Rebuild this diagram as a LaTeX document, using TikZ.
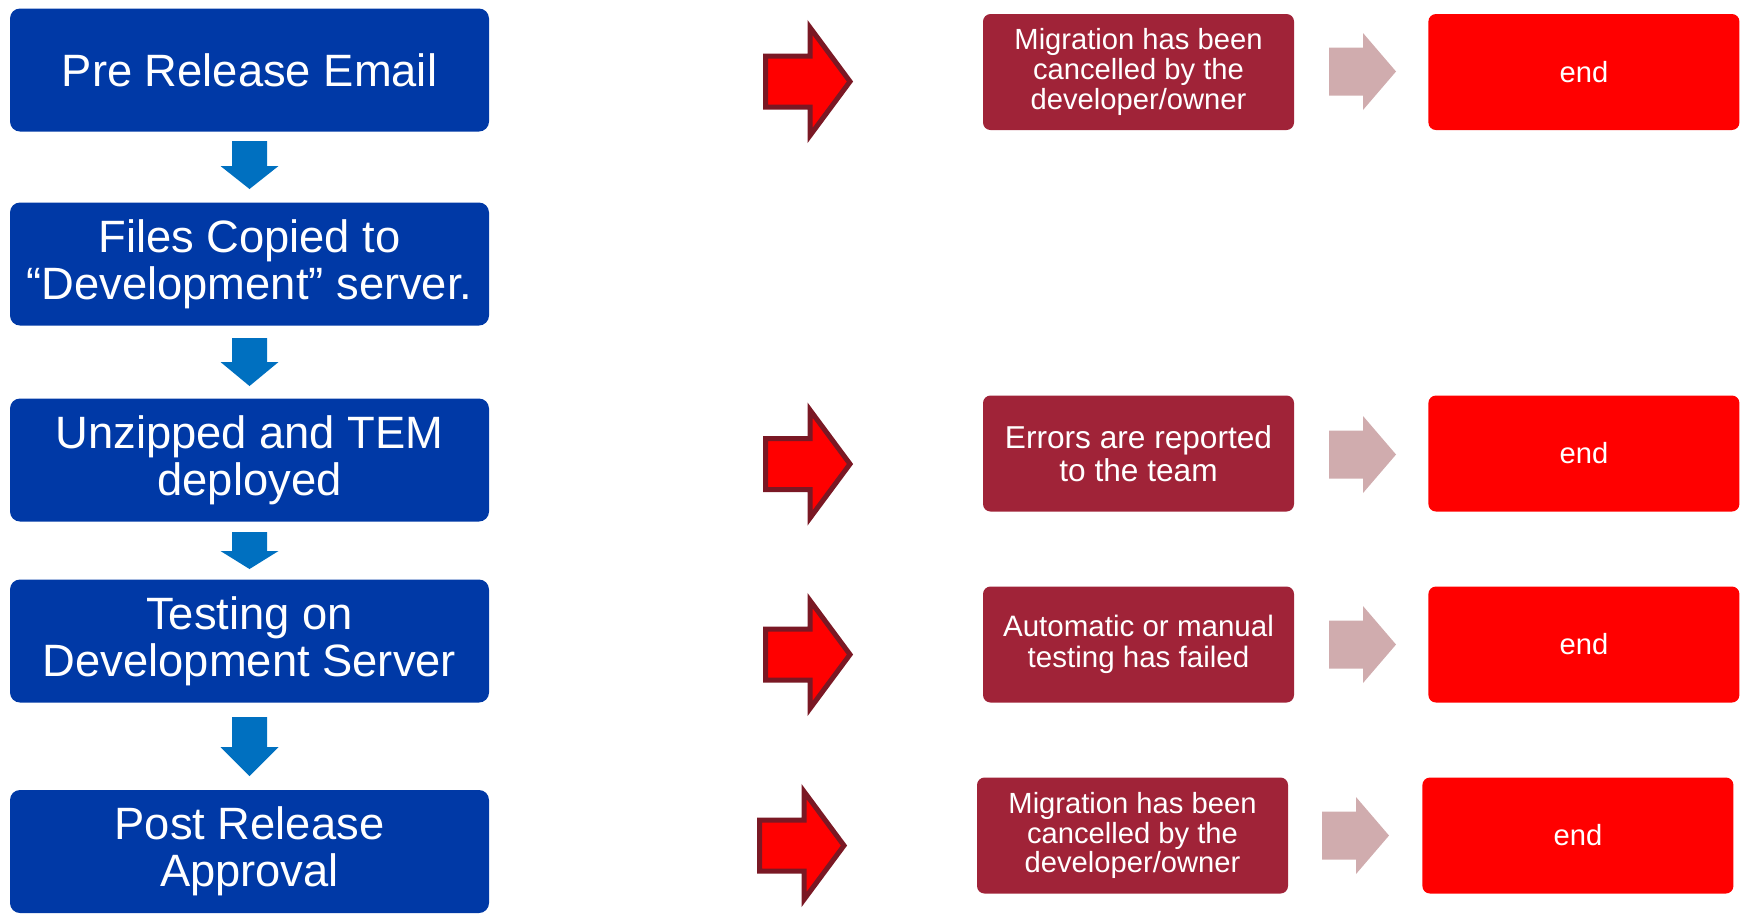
\documentclass[tikz,border=0pt]{standalone}
\usepackage{fontspec}
\setmainfont{Liberation Sans}
\usetikzlibrary{positioning}

\definecolor{stepblue}{RGB}{0,57,166}
\definecolor{arrowblue}{RGB}{0,112,192}
\definecolor{failred}{RGB}{160,35,56}
\definecolor{arrowrim}{RGB}{122,24,36}
\definecolor{arrowpink}{RGB}{208,172,174}
\definecolor{endred}{RGB}{255,0,0}

\begin{document}
\begin{tikzpicture}[x=0.1mm, y=-0.1mm,
  stepbox/.style={fill=stepblue, rounded corners=1mm, text=white, align=center,
    inner sep=0pt, minimum width=47.9mm, minimum height=12.3mm,
    font=\fontsize{12.9}{13.4}\selectfont},
  failbox/.style={fill=failred, rounded corners=0.75mm, text=white, align=center,
    inner sep=0pt, minimum width=31.1mm, minimum height=11.6mm,
    font=\fontsize{8.3}{8.5}\selectfont},
  endbox/.style={fill=endred, rounded corners=0.75mm, text=white,
    inner sep=0pt, minimum width=31.1mm, minimum height=11.6mm,
    font=\fontsize{8.3}{8.5}\selectfont}]
\useasboundingbox (0,0) rectangle (1742,913);

% main steps
\node[stepbox] (pre)    at (249.5,70) {Pre Release Email};
\node[stepbox] (copy)   at (249.5,264)  {Files Copied to\\“Development” server.};
\node[stepbox] (deploy) at (249.5,460)  {Unzipped and TEM\\deployed};
\node[stepbox] (test)   at (249.5,641)  {Testing on\\Development Server};
\node[stepbox] (post)   at (249.5,851.5) {Post Release\\Approval};

% down arrows: top/head/tip
\foreach \t/\h/\e in {141/166/189, 338/362/386, 532/551/569, 717/747/776}
  \fill[arrowblue] (232,\t) -- (267,\t) -- (267,\h) -- (278.5,\h) -- (249.5,\e)
    -- (220.5,\h) -- (232,\h) -- cycle;

% failure branches
\node[failbox] (cancelA) at (1138.5,72) {Migration has been\\cancelled by the\\developer/owner};
\node[failbox, font=\fontsize{9}{9.4}\selectfont] (errors) at (1138.5,453.5)
  {Errors are reported\\to the team};
\node[failbox, font=\fontsize{8.4}{8.8}\selectfont] (failed) at (1138.5,644.5)
  {Automatic or manual\\testing has failed};
\node[failbox] (cancelB) at (1132.5,835.5) {Migration has been\\cancelled by the\\developer/owner};

\node[endbox, right=13.3mm of cancelA] (endA) {end};
\node[endbox, right=13.3mm of errors]  (endB) {end};
\node[endbox, right=13.3mm of failed]  (endC) {end};
\node[endbox, right=13.3mm of cancelB] (endD) {end};

% red block arrows
\foreach \x/\y in {763/81.5, 763/464, 763/654.5, 757/845.5}
  \filldraw[fill=red, draw=arrowrim, line width=0.5mm, line join=miter]
    (\x+2.5,\y-25.5) -- (\x+47,\y-25.5) -- (\x+47,\y-54) -- (\x+87,\y)
    -- (\x+47,\y+54) -- (\x+47,\y+25.5) -- (\x+2.5,\y+25.5) -- cycle;

% pink block arrows
\foreach \x/\y in {1329/71.5, 1329/454.5, 1329/644.5, 1322/835.5}
  \fill[arrowpink] (\x,\y-24) -- (\x+34,\y-24) -- (\x+34,\y-38.5) -- (\x+67,\y)
    -- (\x+34,\y+38.5) -- (\x+34,\y+24) -- (\x,\y+24) -- cycle;
\end{tikzpicture}
\end{document}
